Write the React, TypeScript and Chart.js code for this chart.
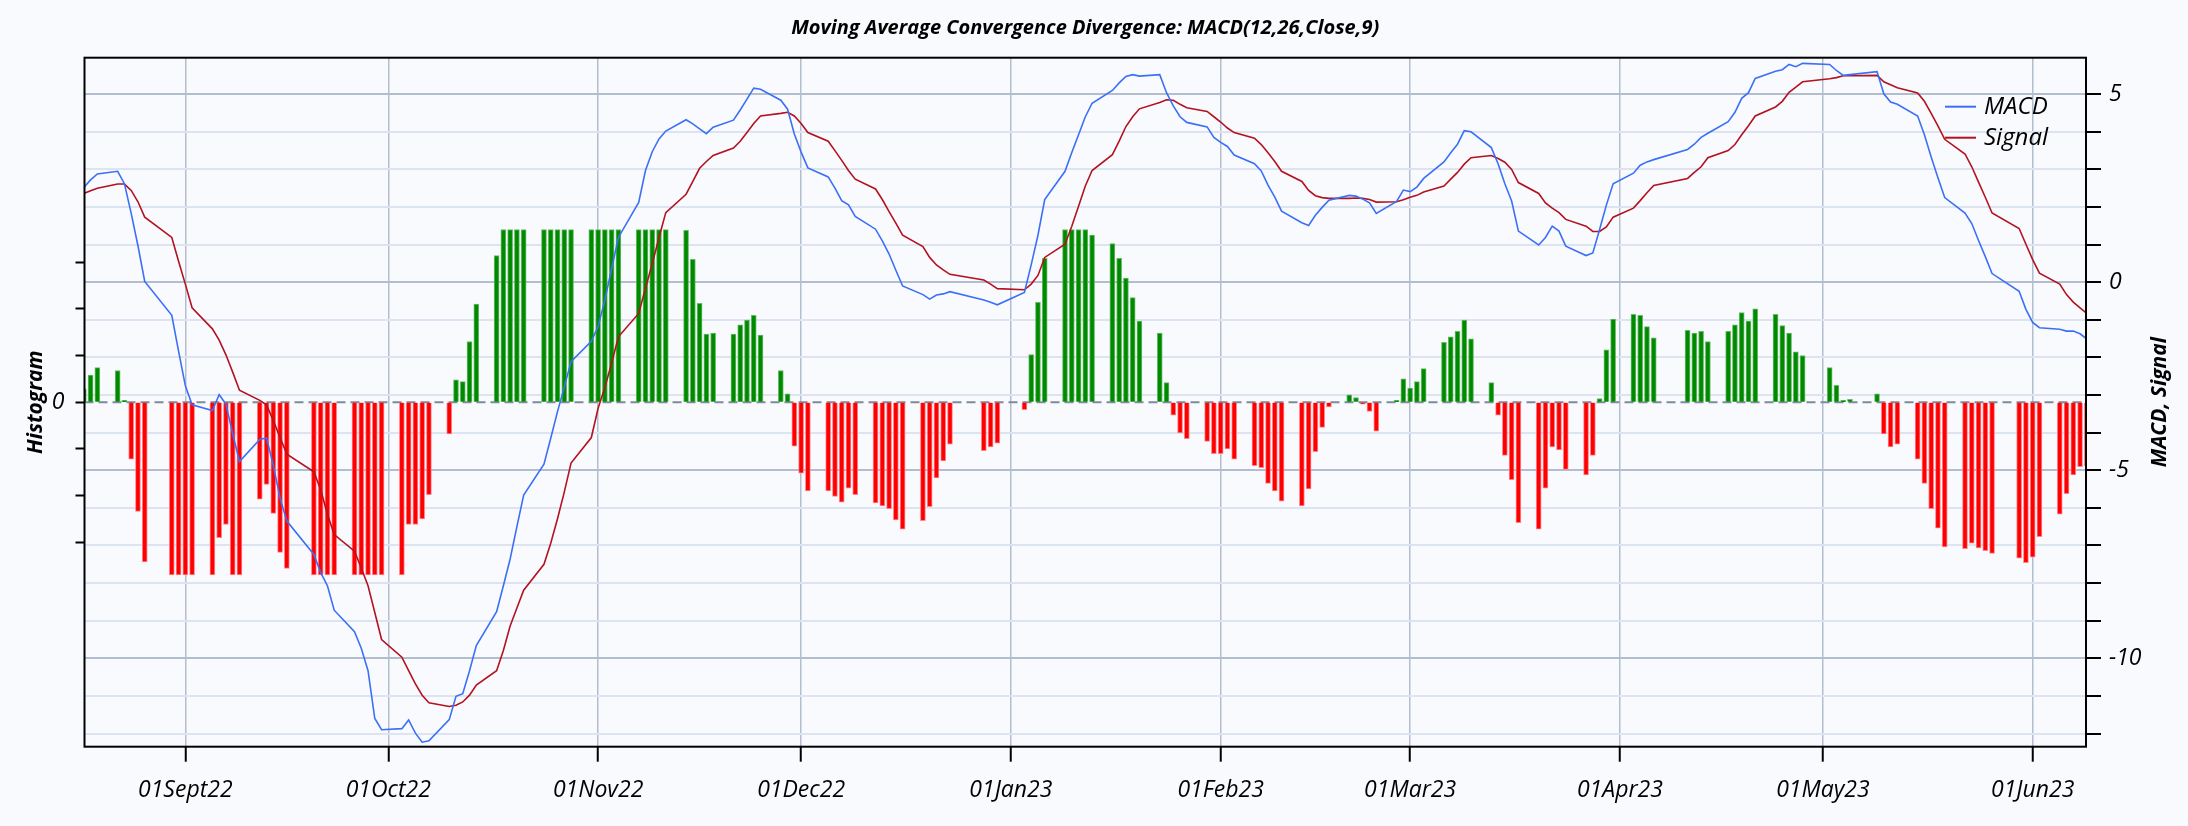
import React, { useEffect, useRef } from 'react';
import { Chart, registerables } from 'chart.js';

Chart.register(...registerables);

// ---------- data ----------
const TITLE = 'Moving Average Convergence Divergence: MACD(12,26,Close,9)';
const firstDate = '2022-08-17';
const lastDate = '2023-06-09';
// London market holidays inside the period (no bars / points)
const holidays = ['2022-08-29', '2022-09-19', '2022-12-26', '2022-12-27', '2023-01-02', '2023-04-07', '2023-04-10', '2023-05-01', '2023-05-08', '2023-05-29'];

const xTickDates = ['2022-09-01', '2022-10-01', '2022-11-01', '2022-12-01', '2023-01-01', '2023-02-01', '2023-03-01', '2023-04-01', '2023-05-01', '2023-06-01'];
const xTickLabels = ['01Sept22', '01Oct22', '01Nov22', '01Dec22', '01Jan23', '01Feb23', '01Mar23', '01Apr23', '01May23', '01Jun23'];

// Aug(10) Sep(21) Oct(21) Nov(22) Dec(20) Jan(21) Feb(20) Mar(23) Apr(18) May(20) Jun(7)
const macd = [
  2.52, 2.72, 2.88, 2.95, 2.62, 1.83, 0.97, 0.02, -0.88, -1.83,
  -2.75, -3.26, -3.41, -2.99, -3.24, -4.03, -4.77, -4.18, -4.14, -4.87, -5.74, -6.35, -7.24, -7.72, -8.07, -8.72, -9.29, -9.73, -10.33, -11.6, -11.9,
  -11.87, -11.64, -11.99, -12.23, -12.19, -11.63, -11.01, -10.94, -10.33, -9.66, -8.76, -8.07, -7.36, -6.5, -5.66, -4.84, -4.15, -3.44, -2.79, -2.11, -1.57,
  -1.18, -0.47, 0.36, 1.19, 2.12, 2.97, 3.47, 3.81, 4.02, 4.32, 4.21, 4.08, 3.95, 4.12, 4.31, 4.58, 4.87, 5.16, 5.13, 4.84, 4.6, 3.94,
  3.46, 3.04, 2.8, 2.5, 2.17, 2.06, 1.75, 1.41, 1.1, 0.75, 0.32, -0.1, -0.33, -0.45, -0.34, -0.31, -0.25, -0.47, -0.53, -0.6,
  -0.27, 0.46, 1.25, 2.2, 2.95, 3.45, 3.92, 4.4, 4.76, 5.1, 5.3, 5.47, 5.52, 5.48, 5.52, 5.04, 4.69, 4.4, 4.25, 4.13, 3.85,
  3.72, 3.61, 3.38, 3.15, 2.96, 2.58, 2.26, 1.89, 1.58, 1.51, 1.78, 1.99, 2.18, 2.31, 2.29, 2.21, 2.11, 1.83, 2.15, 2.45,
  2.41, 2.53, 2.76, 3.2, 3.44, 3.67, 4.03, 4.0, 3.58, 3.15, 2.62, 2.16, 1.36, 0.99, 1.19, 1.49, 1.36, 0.96, 0.71, 0.78, 1.4, 2.05, 2.62,
  2.9, 3.11, 3.2, 3.26, 3.53, 3.67, 3.85, 3.96, 4.27, 4.52, 4.89, 5.04, 5.42, 5.61, 5.65, 5.79, 5.73, 5.82,
  5.79, 5.63, 5.5, 5.52, 5.6, 5.01, 4.79, 4.73, 4.42, 3.92, 3.33, 2.78, 2.25, 1.84, 1.56, 1.11, 0.68, 0.23, -0.24, -0.72,
  -1.07, -1.21, -1.25, -1.3, -1.3, -1.37, -1.51,
];

const signal = [
  2.36, 2.43, 2.5, 2.61, 2.61, 2.44, 2.14, 1.73, 1.19, 0.56,
  -0.05, -0.68, -1.24, -1.54, -1.93, -2.39, -2.87, -3.14, -3.26, -3.68, -4.13, -4.57, -5.04, -5.52, -6.17, -6.71, -7.15, -7.6, -8.07, -8.78, -9.5,
  -9.97, -10.33, -10.68, -10.98, -11.18, -11.28, -11.25, -11.16, -10.98, -10.71, -10.33, -9.79, -9.14, -8.66, -8.19, -7.5, -6.94, -6.29, -5.58, -4.81, -4.13,
  -3.35, -2.8, -2.15, -1.45, -0.83, -0.16, 0.49, 1.19, 1.85, 2.34, 2.68, 3.03, 3.21, 3.37, 3.57, 3.75, 3.98, 4.22, 4.42, 4.49, 4.52, 4.42,
  4.22, 3.98, 3.75, 3.5, 3.24, 2.97, 2.74, 2.48, 2.2, 1.88, 1.57, 1.25, 0.95, 0.66, 0.46, 0.33, 0.21, 0.06, -0.05, -0.17,
  -0.2, -0.05, 0.18, 0.66, 1.01, 1.49, 2.02, 2.56, 2.97, 3.39, 3.75, 4.14, 4.4, 4.61, 4.78, 4.85, 4.84, 4.73, 4.64, 4.54, 4.4,
  4.26, 4.1, 3.98, 3.83, 3.66, 3.44, 3.21, 2.95, 2.68, 2.44, 2.3, 2.25, 2.23, 2.23, 2.24, 2.23, 2.2, 2.13, 2.14, 2.19,
  2.26, 2.31, 2.4, 2.56, 2.74, 2.92, 3.14, 3.31, 3.37, 3.29, 3.19, 3.0, 2.65, 2.36, 2.11, 1.97, 1.85, 1.67, 1.49, 1.35, 1.35, 1.47, 1.73,
  1.97, 2.17, 2.38, 2.57, 2.76, 2.92, 3.07, 3.31, 3.5, 3.66, 3.92, 4.16, 4.42, 4.66, 4.81, 5.05, 5.19, 5.33,
  5.41, 5.44, 5.49, 5.49, 5.5, 5.33, 5.25, 5.17, 5.03, 4.81, 4.49, 4.16, 3.8, 3.41, 3.07, 2.66, 2.26, 1.84, 1.43, 1.01,
  0.6, 0.24, -0.05, -0.33, -0.53, -0.68, -0.83,
];

// histogram as drawn (bars cut off at +/-1.85)
const histogram = [
  0.14, 0.29, 0.37, 0.34, 0.02, -0.61, -1.17, -1.71, -1.85, -1.85,
  -1.85, -1.85, -1.85, -1.45, -1.31, -1.85, -1.85, -1.04, -0.88, -1.19, -1.61, -1.78, -1.85, -1.85, -1.85, -1.85, -1.85, -1.85, -1.85, -1.85, -1.85,
  -1.85, -1.31, -1.31, -1.25, -0.99, -0.34, 0.24, 0.22, 0.65, 1.05, 1.57, 1.85, 1.85, 1.85, 1.85, 1.85, 1.85, 1.85, 1.85, 1.85, 1.85,
  1.85, 1.85, 1.85, 1.85, 1.85, 1.85, 1.85, 1.85, 1.85, 1.84, 1.53, 1.06, 0.73, 0.74, 0.73, 0.83, 0.88, 0.93, 0.72, 0.34, 0.09, -0.47,
  -0.76, -0.95, -0.95, -1.01, -1.07, -0.92, -0.99, -1.08, -1.11, -1.14, -1.26, -1.36, -1.27, -1.12, -0.81, -0.63, -0.45, -0.52, -0.48, -0.44,
  -0.08, 0.51, 1.07, 1.54, 1.85, 1.85, 1.85, 1.85, 1.79, 1.7, 1.54, 1.33, 1.12, 0.87, 0.74, 0.21, -0.14, -0.33, -0.39, -0.42, -0.55,
  -0.55, -0.5, -0.61, -0.68, -0.7, -0.87, -0.95, -1.06, -1.11, -0.93, -0.53, -0.27, -0.05, 0.08, 0.05, -0.02, -0.1, -0.31, 0.02, 0.25,
  0.15, 0.22, 0.36, 0.64, 0.7, 0.76, 0.88, 0.68, 0.21, -0.14, -0.57, -0.83, -1.29, -1.36, -0.92, -0.48, -0.51, -0.72, -0.78, -0.57, 0.04, 0.56, 0.89,
  0.94, 0.93, 0.81, 0.69, 0.77, 0.74, 0.76, 0.65, 0.76, 0.83, 0.96, 0.87, 1.0, 0.94, 0.82, 0.74, 0.54, 0.5,
  0.37, 0.18, 0.02, 0.03, 0.09, -0.34, -0.48, -0.45, -0.61, -0.87, -1.14, -1.35, -1.55, -1.57, -1.51, -1.56, -1.59, -1.62, -1.67, -1.72,
  -1.66, -1.44, -1.2, -0.98, -0.78, -0.69, -0.68,
];

const macdTicks = [-12, -11, -10, -9, -8, -7, -6, -5, -4, -3, -2, -1, 0, 1, 2, 3, 4, 5];
const histTicks = [-1.5, -1, -0.5, 0, 0.5, 1, 1.5];

// ---------- style ----------
const FONT = "'Open Sans', 'DejaVu Sans', sans-serif";
const BG = '#f9fafe';
const BLUE = '#3b70f6';
const DARKRED = '#b3121f';
const GREEN = '#008a00';
const RED = '#ff0000';
const GRID_MAJOR = '#b2becf';
const GRID_MINOR = '#dbe4f0';

const BASE = Date.UTC(2022, 8, 1);
const dayIndex = (iso: string) => {
  const [y, m, d] = iso.split('-').map(Number);
  return (Date.UTC(y, m - 1, d) - BASE) / 86400000;
};

function tradingDates(): string[] {
  const out: string[] = [];
  const [y0, m0, d0] = firstDate.split('-').map(Number);
  const [y1, m1, d1] = lastDate.split('-').map(Number);
  let t = Date.UTC(y0, m0 - 1, d0);
  const end = Date.UTC(y1, m1 - 1, d1);
  while (t <= end) {
    const dt = new Date(t);
    const wd = dt.getUTCDay();
    const iso = dt.toISOString().slice(0, 10);
    if (wd !== 0 && wd !== 6 && !holidays.includes(iso)) out.push(iso);
    t += 86400000;
  }
  return out;
}

const decor = {
  id: 'decor',
  beforeDraw(chart: any) {
    const { ctx, width, height } = chart;
    ctx.save();
    ctx.fillStyle = BG;
    ctx.fillRect(0, 0, width, height);
    ctx.restore();
  },
  beforeDatasetsDraw(chart: any) {
    const { ctx, chartArea } = chart;
    const y0 = chart.scales.yH.getPixelForValue(0);
    ctx.save();
    ctx.strokeStyle = '#7d8b9b';
    ctx.lineWidth = 2;
    ctx.setLineDash([9, 5]);
    ctx.beginPath();
    ctx.moveTo(chartArea.left, y0);
    ctx.lineTo(chartArea.right, y0);
    ctx.stroke();
    ctx.restore();
  },
  afterDraw(chart: any) {
    const { ctx, chartArea } = chart;
    ctx.save();
    ctx.strokeStyle = '#000';
    ctx.lineWidth = 2;
    ctx.strokeRect(chartArea.left, chartArea.top, chartArea.right - chartArea.left, chartArea.bottom - chartArea.top);

    // legend (top right, inside the plot)
    const lx = chartArea.right - 141;
    const rows = [
      { label: 'MACD', color: BLUE, y: chartArea.top + 49 },
      { label: 'Signal', color: DARKRED, y: chartArea.top + 80 },
    ];
    ctx.font = `italic 24px ${FONT}`;
    ctx.textBaseline = 'middle';
    ctx.textAlign = 'left';
    rows.forEach((r) => {
      ctx.strokeStyle = r.color;
      ctx.lineWidth = 2;
      ctx.beginPath();
      ctx.moveTo(lx, r.y);
      ctx.lineTo(lx + 31, r.y);
      ctx.stroke();
      ctx.fillStyle = '#000';
      ctx.fillText(r.label, lx + 39, r.y);
    });

    // right axis title, reading bottom to top
    ctx.translate(2160, (chartArea.top + chartArea.bottom) / 2);
    ctx.rotate(-Math.PI / 2);
    ctx.font = `italic bold 21px ${FONT}`;
    ctx.textAlign = 'center';
    ctx.textBaseline = 'middle';
    ctx.fillStyle = '#000';
    ctx.fillText('MACD, Signal', 0, 0);
    ctx.restore();
  },
};

export default function App() {
  const ref = useRef<HTMLCanvasElement>(null);

  useEffect(() => {
    const canvas = ref.current;
    if (!canvas) return;
    const xs = tradingDates().map(dayIndex);
    const tickDays = xTickDates.map(dayIndex);

    const chart = new Chart(canvas, {
      type: 'line',
      data: {
        datasets: [
          {
            type: 'bar',
            label: 'Histogram',
            data: xs.map((x, i) => ({ x, y: histogram[i] })),
            yAxisID: 'yH',
            backgroundColor: histogram.map((v) => (v >= 0 ? GREEN : RED)),
            borderColor: histogram.map((v) => (v >= 0 ? 'rgba(90,180,90,0.9)' : 'rgba(255,120,130,0.9)')),
            borderWidth: 1,
            barThickness: 5,
            order: 3,
          } as any,
          {
            type: 'line',
            label: 'MACD',
            data: xs.map((x, i) => ({ x, y: macd[i] })),
            yAxisID: 'y',
            borderColor: BLUE,
            borderWidth: 1.6,
            pointRadius: 0,
            tension: 0,
            order: 1,
          },
          {
            type: 'line',
            label: 'Signal',
            data: xs.map((x, i) => ({ x, y: signal[i] })),
            yAxisID: 'y',
            borderColor: DARKRED,
            borderWidth: 1.6,
            pointRadius: 0,
            tension: 0,
            order: 2,
          },
        ],
      },
      options: {
        responsive: false,
        animation: false,
        devicePixelRatio: 1,
        layout: { padding: 0 },
        plugins: {
          legend: { display: false },
          tooltip: { enabled: false },
          title: {
            display: true,
            text: TITLE,
            fullSize: false,
            color: '#000',
            font: { family: FONT, size: 20, weight: 'bold', style: 'italic', lineHeight: 1.2 },
            padding: { top: 16.3, bottom: 17.4 },
          },
        },
        scales: {
          x: {
            type: 'linear',
            position: 'bottom',
            offset: false,
            min: -14.9,
            max: 280.88,
            afterBuildTicks: (s: any) => {
              s.ticks = tickDays.map((v) => ({ value: v }));
            },
            afterFit: (s: any) => {
              s.height = 79.3;
            },
            ticks: {
              autoSkip: false,
              maxRotation: 0,
              minRotation: 0,
              padding: 15,
              color: '#000',
              font: { family: FONT, size: 23, style: 'italic' },
              callback: (_v: any, i: number) => xTickLabels[i],
            },
            grid: { offset: false, color: GRID_MAJOR, lineWidth: 1.5, tickColor: '#000', tickLength: 15, tickWidth: 2 },
            border: { display: false },
          },
          yH: {
            type: 'linear',
            position: 'left',
            min: -3.69,
            max: 3.69,
            afterBuildTicks: (s: any) => {
              s.ticks = histTicks.map((v) => ({ value: v }));
            },
            afterFit: (s: any) => {
              s.width = 84.5;
            },
            ticks: {
              autoSkip: false,
              padding: 11,
              color: '#000',
              font: { family: FONT, size: 23, style: 'italic' },
              callback: (v: any) => (Number(v) === 0 ? '0' : ''),
            },
            grid: { drawOnChartArea: false, tickLength: 9, tickColor: '#000', tickWidth: 2 },
            border: { display: false },
            title: {
              display: true,
              text: 'Histogram',
              color: '#000',
              font: { family: FONT, size: 21, weight: 'bold', style: 'italic', lineHeight: 1.2 },
              padding: { top: 23.4, bottom: 0 },
            },
          },
          y: {
            type: 'linear',
            position: 'right',
            min: -12.35,
            max: 5.97,
            afterBuildTicks: (s: any) => {
              s.ticks = macdTicks.map((v) => ({ value: v }));
            },
            afterFit: (s: any) => {
              s.width = 102;
            },
            ticks: {
              autoSkip: false,
              padding: 8,
              color: '#000',
              font: { family: FONT, size: 23, style: 'italic' },
              callback: (v: any) => (Number(v) % 5 === 0 ? String(v) : ''),
            },
            grid: {
              color: (c: any) => (c.tick && c.tick.value % 5 === 0 ? GRID_MAJOR : GRID_MINOR),
              lineWidth: 2,
              tickColor: '#000',
              tickLength: 15,
              tickWidth: 2,
            },
            border: { display: false },
          },
        },
      },
      plugins: [decor],
    } as any);

    return () => chart.destroy();
  }, []);

  return (
    <div style={{ position: 'fixed', left: 0, top: 0, width: 2188, height: 826, background: BG }}>
      <canvas ref={ref} width={2188} height={826} style={{ display: 'block', width: 2188, height: 826 }} />
    </div>
  );
}
